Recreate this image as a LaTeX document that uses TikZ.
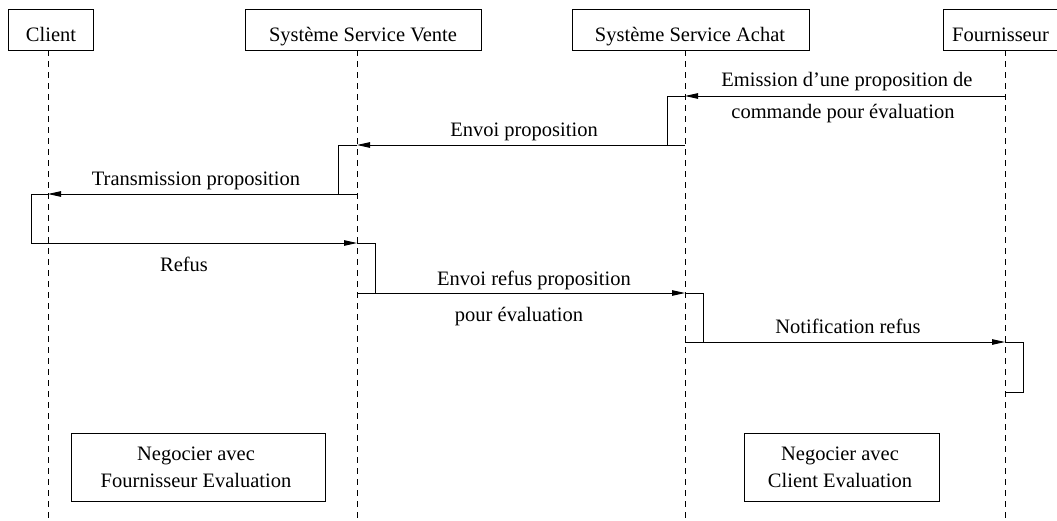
\documentclass[tikz,border=0pt]{standalone}
\usepackage{fontspec}
\setmainfont{Liberation Serif}
\usetikzlibrary{arrows.meta}
\begin{document}
\begin{tikzpicture}[x=1pt,y=-1pt,
  every node/.style={font=\fontsize{20.5}{24}\selectfont, inner sep=0pt},
  actor/.style={draw, line width=0.9pt, minimum height=41pt, anchor=north west},
  life/.style={line width=0.8pt, dash pattern=on 6pt off 5pt},
  msg/.style={line width=0.9pt, -{Triangle[length=13pt,width=5.5pt]}},
  act/.style={line width=0.9pt},
  lbl/.style={anchor=base},
  note/.style={draw, line width=1pt, minimum height=68pt, anchor=north west}]
\useasboundingbox (0,0) rectangle (1057,520);
% actors
\node[actor, minimum width=85pt] (client) at (8,9) {};
\node[lbl] at (51,41.5) (clientT) {Client};
\node[actor, minimum width=236pt] (vente) at (245,9) {};
\node[lbl] at (363,41.5) (venteT) {Système Service Vente};
\node[actor, minimum width=237pt] (achat) at (572,9) {};
\node[lbl] at (690,41.5) (achatT) {Système Service Achat};
\node[actor, minimum width=130pt] (four) at (943,9) {};
\node[lbl] at (1000.5,41.5) (fourT) {Fournisseur};
% lifelines
\coordinate (lc0) at (48,50);   \coordinate (lc1) at (48,520);
\coordinate (lv0) at (357,50);  \coordinate (lv1) at (357,520);
\coordinate (la0) at (685,50);  \coordinate (la1) at (685,520);
\coordinate (lf0) at (1005,50); \coordinate (lf1) at (1005,520);
\draw[life] (lc0) -- (lc1);
\draw[life] (lv0) -- (lv1);
\draw[life] (la0) -- (la1);
\draw[life] (lf0) -- (lf1);
% message points
\coordinate (m1s) at (1005,96);  \coordinate (m1e) at (685,96);
\coordinate (m2s) at (685,145);  \coordinate (m2e) at (357,145);
\coordinate (m3s) at (357,194);  \coordinate (m3e) at (48,194);
\coordinate (m4s) at (31,243);   \coordinate (m4e) at (357,243);
\coordinate (m5s) at (357,293);  \coordinate (m5e) at (685,293);
\coordinate (m6s) at (685,342);  \coordinate (m6e) at (1005,342);
% activation brackets
\draw[act] (m1e) -- ++(-18,0) |- (m2s);
\draw[act] (m2e) -- ++(-19,0) |- (m3s);
\draw[act] (m3e) -- (31,194) -- (m4s);
\draw[act] (m4e) -- ++(18,0) |- (m5s);
\draw[act] (m5e) -- ++(18,0) |- (m6s);
\draw[act] (m6e) -- ++(18,0) -- (1023,392) -- (1005,392);
% messages
\draw[msg] (m1s) -- (m1e);
\draw[msg] (m2s) -- (m2e);
\draw[msg] (m3s) -- (m3e);
\draw[msg] (m4s) -- (m4e);
\draw[msg] (m5s) -- (m5e);
\draw[msg] (m6s) -- (m6e);
% labels
\node[lbl] (t1a) at (847,86) {Emission d’une proposition de};
\node[lbl] (t1b) at (843,118.5) {commande pour évaluation};
\node[lbl] (t2) at (524,136) {Envoi proposition};
\node[lbl] (t3) at (196,185) {Transmission proposition};
\node[lbl] (t4) at (184,271.5) {Refus};
\node[lbl] (t5a) at (534,285) {Envoi refus proposition};
\node[lbl] (t5b) at (519,321) {pour évaluation};
\node[lbl] (t6) at (848,333.5) {Notification refus};
% notes
\node[note, minimum width=254pt] (n1) at (71,433) {};
\node[lbl] (n1a) at (196,460) {Negocier avec};
\node[lbl] (n1b) at (196,487) {Fournisseur Evaluation};
\node[note, minimum width=195pt] (n2) at (743.5,433) {};
\node[lbl] (n2a) at (840,460) {Negocier avec};
\node[lbl] (n2b) at (840,487) {Client Evaluation};
\end{tikzpicture}
\end{document}
